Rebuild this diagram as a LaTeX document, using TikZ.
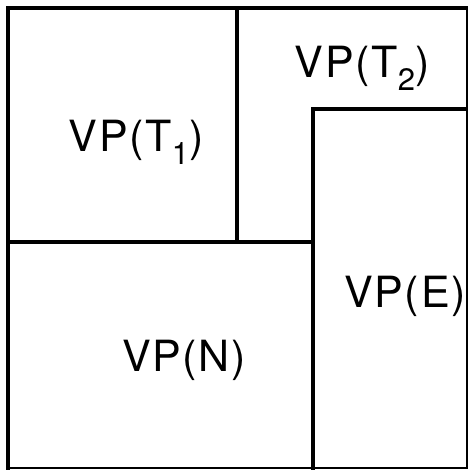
\documentclass[tikz,border=0pt]{standalone}
\usepackage{fontspec}
\setmainfont{TeX Gyre Heros}[LetterSpace=4]
\begin{document}
\begin{tikzpicture}[x=1pt,y=1pt,
  wall/.style={line width=3.2pt,line cap=rect},
  rim/.style={line width=2pt,line cap=rect},
  lbl/.style={anchor=base,inner sep=0pt,font=\fontsize{43}{43}\selectfont}]
\useasboundingbox (0,0) rectangle (468,470);
\coordinate (tl) at (8,462);
\coordinate (tr) at (466.5,462);
\coordinate (bl) at (8,2);
\coordinate (br) at (466.5,2);
\coordinate (mtop) at (237,462);
\coordinate (mmid) at (237,228);
\coordinate (hl) at (8,228);
\coordinate (hr) at (313,228);
\coordinate (etl) at (313,361);
\coordinate (etr) at (466.5,361);
\coordinate (ebl) at (313,2);
\draw[rim] (tr) -- (br) -- (bl);
\draw[wall] (bl) -- (tl) -- (tr);
\draw[wall] (mtop) -- (mmid);
\draw[wall] (hl) -- (hr);
\draw[wall] (ebl) -- (etl) -- (etr);
\node[lbl] (t1) at (136,318) {VP(T\raisebox{-0.3em}{\fontsize{31}{31}\selectfont 1})};
\node[lbl] (t2) at (362,392) {VP(T\raisebox{-0.3em}{\fontsize{31}{31}\selectfont 2})};
\node[lbl] (e) at (405,162) {VP(E)};
\node[lbl] (n) at (184,98) {VP(N)};
\end{tikzpicture}
\end{document}
